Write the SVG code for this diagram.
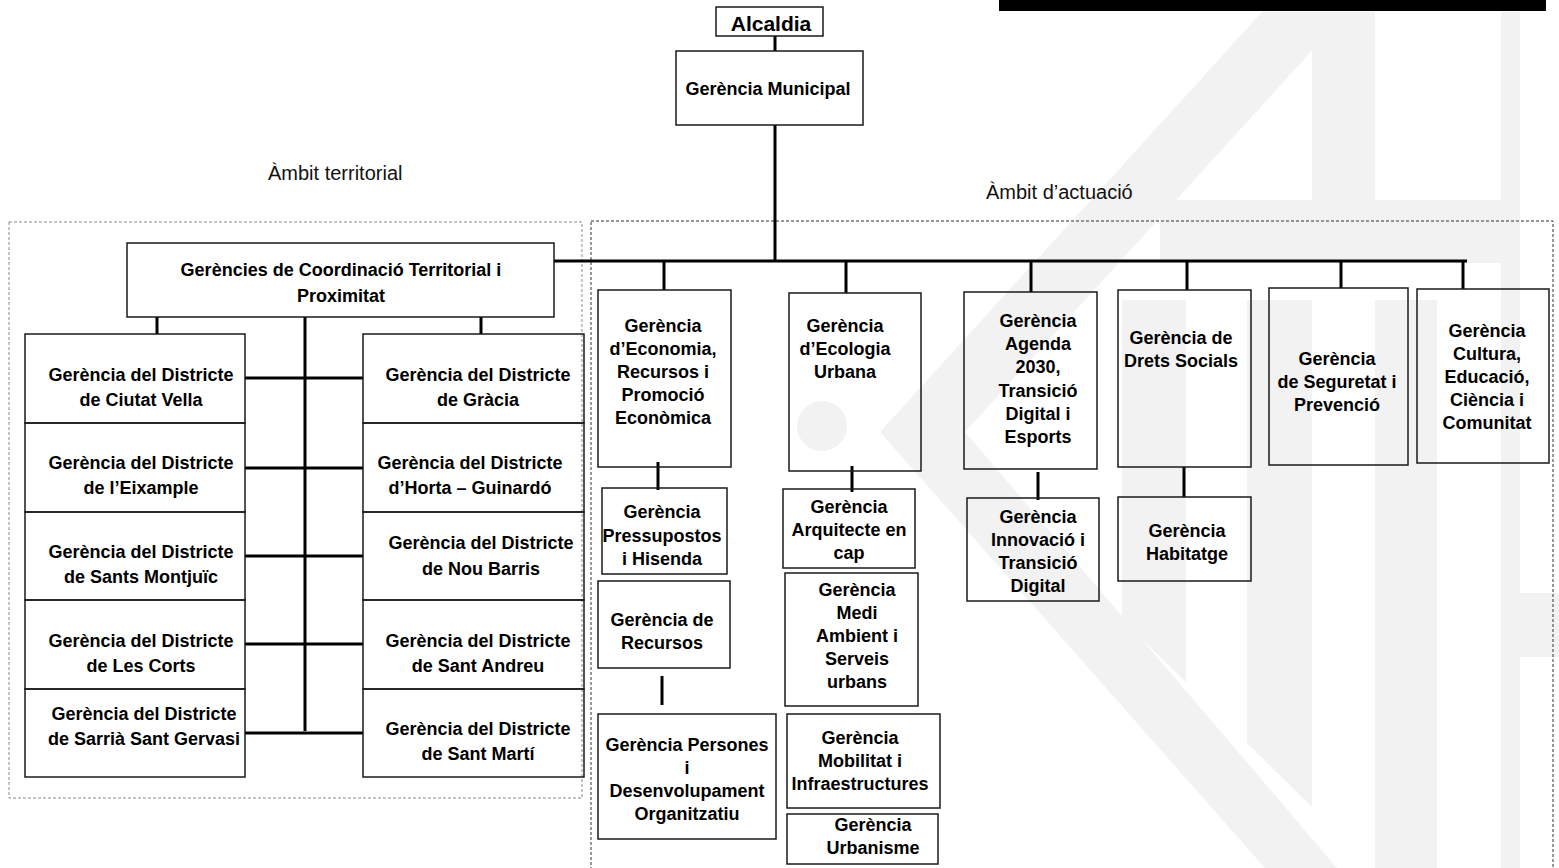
<svg xmlns="http://www.w3.org/2000/svg" width="1559" height="868" viewBox="0 0 1559 868">
<defs>
<style>
.box{fill:none;stroke:#1a1a1a;stroke-width:1.5}
.t{font-family:"Liberation Sans",Arial,sans-serif;font-weight:bold;font-size:18px;fill:#000;text-anchor:middle}
.lbl{font-family:"Liberation Sans",Arial,sans-serif;font-size:20px;fill:#111}
.conn line{stroke:#000;stroke-width:3}
.wm{fill:#f2f2f2}
</style>
</defs>
<rect width="1559" height="868" fill="#fff"/>
<g id="watermark">
<polygon class="wm" points="1262,12 1347,12 965,432 1337,868 1265,868 880,432"/>
<circle class="wm" cx="822" cy="426" r="25"/>
<rect class="wm" x="1312" y="12" width="63" height="188"/>
<rect class="wm" x="1160" y="200" width="341" height="63"/>
<rect class="wm" x="1501" y="12" width="19" height="856"/>
<polygon class="wm" points="1122,300 1186,300 1186,682 1122,620"/>
<polygon class="wm" points="1247,300 1312,300 1312,807 1247,743"/>
<rect class="wm" x="1375" y="300" width="62" height="568"/>
<rect class="wm" x="1518" y="593" width="41" height="64"/>
</g>
<rect x="999" y="0" width="547" height="11" fill="#000"/>
<g id="frames">
<rect x="9" y="222" width="573" height="576" fill="none" stroke="#8a8a8a" stroke-width="1" stroke-dasharray="3,2"/>
<rect x="591" y="221" width="962" height="660" fill="none" stroke="#333" stroke-width="1" stroke-dasharray="3,2"/>
<text class="lbl" x="268" y="180">Àmbit territorial</text>
<text class="lbl" x="986" y="199">Àmbit d’actuació</text>
</g>
<g class="conn" id="connectors">
<line x1="775" y1="36" x2="775" y2="51"/>
<line x1="775" y1="125" x2="775" y2="261"/>
<line x1="554" y1="261" x2="1467" y2="261"/>
<line x1="664" y1="262" x2="664" y2="290"/>
<line x1="846" y1="261" x2="846" y2="293"/>
<line x1="1031" y1="261" x2="1031" y2="292"/>
<line x1="1187" y1="261" x2="1187" y2="290"/>
<line x1="1341" y1="261" x2="1341" y2="288"/>
<line x1="1463" y1="261" x2="1463" y2="289"/>
<line x1="658" y1="462" x2="658" y2="490"/>
<line x1="662" y1="676" x2="662" y2="705"/>
<line x1="852" y1="466" x2="852" y2="492"/>
<line x1="1038" y1="472" x2="1038" y2="500"/>
<line x1="1184" y1="467" x2="1184" y2="497"/>
<line x1="157" y1="317" x2="157" y2="334"/>
<line x1="481" y1="317" x2="481" y2="334"/>
<line x1="305" y1="317" x2="305" y2="731"/>
<line x1="245" y1="378" x2="363" y2="378"/>
<line x1="245" y1="468" x2="363" y2="468"/>
<line x1="245" y1="556" x2="363" y2="556"/>
<line x1="245" y1="644" x2="363" y2="644"/>
<line x1="245" y1="733" x2="363" y2="733"/>
</g>
<g id="alcaldia"><rect class="box" x="716" y="7" width="107" height="29"/><text class="t" x="771" y="31" style="font-size:21px">Alcaldia</text></g>
<g id="gerencia-municipal"><rect class="box" x="676" y="51" width="187" height="74"/><text class="t" x="768" y="95">Gerència Municipal</text></g>
<g id="coordinacio"><rect class="box" x="127" y="243" width="427" height="74"/><text class="t"><tspan x="341" y="276">Gerències de Coordinació Territorial i</tspan><tspan x="341" y="302">Proximitat</tspan></text></g>
<g id="ciutat-vella"><rect class="box" x="25" y="334" width="220" height="89"/><text class="t"><tspan x="141" y="381">Gerència del Districte</tspan><tspan x="141" y="406">de Ciutat Vella</tspan></text></g>
<g id="eixample"><rect class="box" x="25" y="423" width="220" height="89"/><text class="t"><tspan x="141" y="469">Gerència del Districte</tspan><tspan x="141" y="494">de l’Eixample</tspan></text></g>
<g id="sants"><rect class="box" x="25" y="512" width="220" height="88"/><text class="t"><tspan x="141" y="558">Gerència del Districte</tspan><tspan x="141" y="583">de Sants Montjuïc</tspan></text></g>
<g id="les-corts"><rect class="box" x="25" y="600" width="220" height="89"/><text class="t"><tspan x="141" y="647">Gerència del Districte</tspan><tspan x="141" y="672">de Les Corts</tspan></text></g>
<g id="sarria"><rect class="box" x="25" y="689" width="220" height="88"/><text class="t"><tspan x="144" y="720">Gerència del Districte</tspan><tspan x="144" y="745">de Sarrià Sant Gervasi</tspan></text></g>
<g id="gracia"><rect class="box" x="363" y="334" width="221" height="89"/><text class="t"><tspan x="478" y="381">Gerència del Districte</tspan><tspan x="478" y="406">de Gràcia</tspan></text></g>
<g id="horta"><rect class="box" x="363" y="423" width="221" height="89"/><text class="t"><tspan x="470" y="469">Gerència del Districte</tspan><tspan x="470" y="494">d’Horta – Guinardó</tspan></text></g>
<g id="nou-barris"><rect class="box" x="363" y="512" width="221" height="88"/><text class="t"><tspan x="481" y="549">Gerència del Districte</tspan><tspan x="481" y="575">de Nou Barris</tspan></text></g>
<g id="sant-andreu"><rect class="box" x="363" y="600" width="221" height="89"/><text class="t"><tspan x="478" y="647">Gerència del Districte</tspan><tspan x="478" y="672">de Sant Andreu</tspan></text></g>
<g id="sant-marti"><rect class="box" x="363" y="689" width="221" height="88"/><text class="t"><tspan x="478" y="735">Gerència del Districte</tspan><tspan x="478" y="760">de Sant Martí</tspan></text></g>
<g id="economia"><rect class="box" x="598" y="290" width="133" height="177"/><text class="t"><tspan x="663" y="332">Gerència</tspan><tspan x="663" y="355">d’Economia,</tspan><tspan x="663" y="378">Recursos i</tspan><tspan x="663" y="401">Promoció</tspan><tspan x="663" y="424">Econòmica</tspan></text></g>
<g id="pressupostos"><rect class="box" x="602" y="488" width="125" height="86"/><text class="t"><tspan x="662" y="518">Gerència</tspan><tspan x="662" y="542">Pressupostos</tspan><tspan x="662" y="565">i Hisenda</tspan></text></g>
<g id="recursos"><rect class="box" x="598" y="581" width="132" height="87"/><text class="t"><tspan x="662" y="626">Gerència de</tspan><tspan x="662" y="649">Recursos</tspan></text></g>
<g id="persones"><rect class="box" x="598" y="714" width="178" height="125"/><text class="t"><tspan x="687" y="751">Gerència Persones</tspan><tspan x="687" y="774">i</tspan><tspan x="687" y="797">Desenvolupament</tspan><tspan x="687" y="820">Organitzatiu</tspan></text></g>
<g id="ecologia"><rect class="box" x="789" y="293" width="132" height="178"/><text class="t"><tspan x="845" y="332">Gerència</tspan><tspan x="845" y="355">d’Ecologia</tspan><tspan x="845" y="378">Urbana</tspan></text></g>
<g id="arquitecte"><rect class="box" x="783" y="489" width="132" height="79"/><text class="t"><tspan x="849" y="513">Gerència</tspan><tspan x="849" y="536">Arquitecte en</tspan><tspan x="849" y="559">cap</tspan></text></g>
<g id="medi-ambient"><rect class="box" x="785" y="573" width="133" height="133"/><text class="t"><tspan x="857" y="596">Gerència</tspan><tspan x="857" y="619">Medi</tspan><tspan x="857" y="642">Ambient i</tspan><tspan x="857" y="665">Serveis</tspan><tspan x="857" y="688">urbans</tspan></text></g>
<g id="mobilitat"><rect class="box" x="787" y="714" width="153" height="94"/><text class="t"><tspan x="860" y="744">Gerència</tspan><tspan x="860" y="767">Mobilitat i</tspan><tspan x="860" y="790">Infraestructures</tspan></text></g>
<g id="urbanisme"><rect class="box" x="787" y="814" width="151" height="50"/><text class="t"><tspan x="873" y="831">Gerència</tspan><tspan x="873" y="854">Urbanisme</tspan></text></g>
<g id="agenda2030"><rect class="box" x="964" y="292" width="133" height="177"/><text class="t"><tspan x="1038" y="327">Gerència</tspan><tspan x="1038" y="350">Agenda</tspan><tspan x="1038" y="373">2030,</tspan><tspan x="1038" y="397">Transició</tspan><tspan x="1038" y="420">Digital  i</tspan><tspan x="1038" y="443">Esports</tspan></text></g>
<g id="innovacio"><rect class="box" x="967" y="498" width="132" height="103"/><text class="t"><tspan x="1038" y="523">Gerència</tspan><tspan x="1038" y="546">Innovació i</tspan><tspan x="1038" y="569">Transició</tspan><tspan x="1038" y="592">Digital</tspan></text></g>
<g id="drets-socials"><rect class="box" x="1118" y="290" width="133" height="177"/><text class="t"><tspan x="1181" y="344">Gerència de</tspan><tspan x="1181" y="367">Drets Socials</tspan></text></g>
<g id="habitatge"><rect class="box" x="1118" y="497" width="133" height="84"/><text class="t"><tspan x="1187" y="537">Gerència</tspan><tspan x="1187" y="560">Habitatge</tspan></text></g>
<g id="seguretat"><rect class="box" x="1269" y="288" width="139" height="177"/><text class="t"><tspan x="1337" y="365">Gerència</tspan><tspan x="1337" y="388">de Seguretat i</tspan><tspan x="1337" y="411">Prevenció</tspan></text></g>
<g id="cultura"><rect class="box" x="1417" y="289" width="132" height="174"/><text class="t"><tspan x="1487" y="337">Gerència</tspan><tspan x="1487" y="360">Cultura,</tspan><tspan x="1487" y="383">Educació,</tspan><tspan x="1487" y="406">Ciència i</tspan><tspan x="1487" y="429">Comunitat</tspan></text></g>
</svg>
